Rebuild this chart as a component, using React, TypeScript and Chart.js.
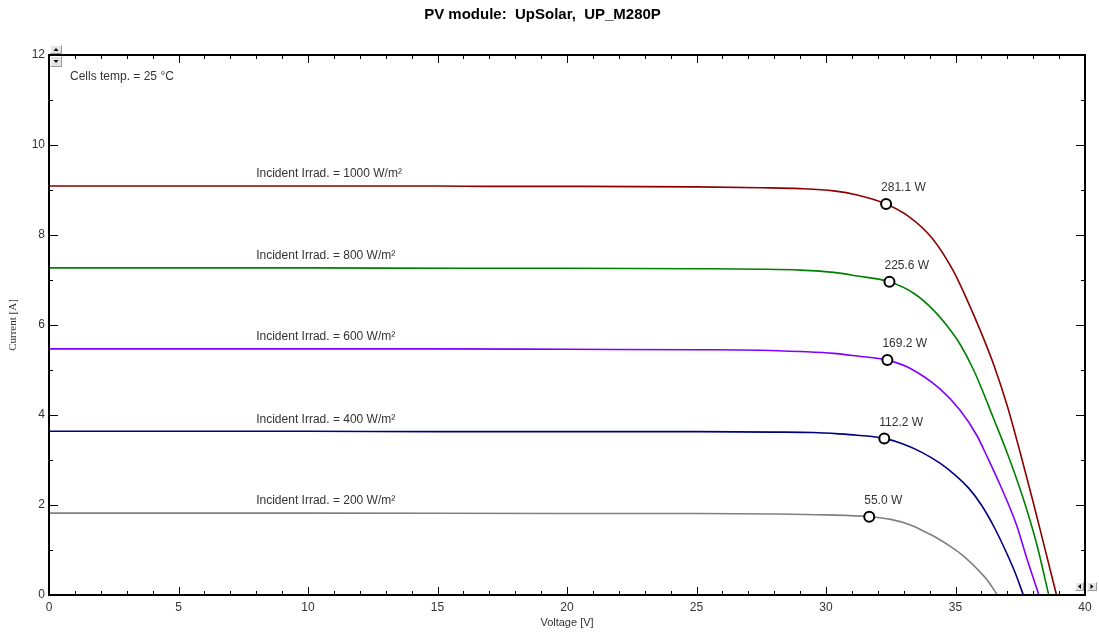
import { useEffect, useRef } from 'react';
import { Chart, registerables } from 'chart.js';

Chart.register(...registerables);

const FONT = "'Liberation Sans', Arial, sans-serif";
const TEXT = '#333333';

// I-V curves, voltage [V] and current [A]
const v1000 = [0, 5, 10, 15, 17, 20, 25, 27.5, 29, 30.3, 31.2, 32.32, 33.2, 34.1, 34.9, 35.4, 36.0, 36.5, 37.0, 37.5, 38.0, 38.5, 38.9];
const i1000 = [9.09, 9.09, 9.09, 9.09, 9.08, 9.08, 9.07, 9.05, 9.03, 8.98, 8.89, 8.69, 8.41, 7.93, 7.22, 6.62, 5.82, 5.08, 4.2, 3.16, 2.06, 0.92, 0];

const v800 = [0, 10, 16, 20, 25, 27.5, 29, 30.3, 31.2, 32.45, 33.4, 34.15, 34.85, 35.2, 35.7, 36.0, 36.45, 36.9, 37.36, 37.75, 38.15, 38.6];
const i800 = [7.27, 7.27, 7.26, 7.26, 7.25, 7.24, 7.22, 7.17, 7.09, 6.96, 6.7, 6.33, 5.85, 5.55, 5.0, 4.6, 3.95, 3.3, 2.58, 1.9, 1.1, 0];

const v600 = [0, 10, 15, 20, 25, 27.5, 29, 30.3, 31.2, 32.37, 33.24, 34.4, 35.17, 35.82, 36.2, 36.72, 37.36, 37.75, 38.22];
const i600 = [5.47, 5.47, 5.47, 5.46, 5.45, 5.44, 5.41, 5.37, 5.31, 5.22, 5.04, 4.58, 4.11, 3.55, 3.1, 2.45, 1.55, 0.82, 0];

const v400 = [0, 10, 15, 20, 25, 28, 29.5, 30.5, 31.2, 32.25, 33.0, 33.7, 34.4, 35.0, 35.5, 36.0, 36.5, 37.0, 37.3, 37.62];
const i400 = [3.64, 3.64, 3.63, 3.63, 3.63, 3.62, 3.61, 3.58, 3.55, 3.48, 3.35, 3.17, 2.93, 2.66, 2.38, 2.0, 1.5, 0.9, 0.5, 0];

const v200 = [0, 10, 20, 25, 28, 30, 31.67, 32.5, 33.24, 33.8, 34.3, 34.8, 35.3, 35.8, 36.2, 36.62];
const i200 = [1.82, 1.82, 1.81, 1.81, 1.8, 1.78, 1.74, 1.68, 1.56, 1.41, 1.26, 1.08, 0.87, 0.6, 0.35, 0];

const curveColors = ['#8b0000', '#008000', '#8000ff', '#000080', '#808080'];
const irradLabels = [
  'Incident Irrad. = 1000 W/m²',
  'Incident Irrad. = 800 W/m²',
  'Incident Irrad. = 600 W/m²',
  'Incident Irrad. = 400 W/m²',
  'Incident Irrad. = 200 W/m²',
];

// Maximum power points
const mppV = [32.32, 32.45, 32.37, 32.25, 31.67];
const mppI = [8.69, 6.96, 5.22, 3.48, 1.74];
const mppLabels = ['281.1 W', '225.6 W', '169.2 W', '112.2 W', '55.0 W'];

const titleText = 'PV module:  UpSolar,  UP_M280P';
const tempText = 'Cells temp. = 25 °C';
const xTitle = 'Voltage [V]';
const yTitle = 'Current [A]';
const xMin = 0, xMax = 40, xStep = 5;
const yMin = 0, yMax = 12, yStep = 2;
const irradLabelV = 8.0;

const curvesV = [v1000, v800, v600, v400, v200];
const curvesI = [i1000, i800, i600, i400, i200];

function drawButton(ctx: CanvasRenderingContext2D, x: number, y: number, w: number, h: number, dir: string) {
  ctx.fillStyle = '#e4e4e4';
  ctx.fillRect(x, y, w, h);
  ctx.strokeStyle = '#ffffff';
  ctx.lineWidth = 1;
  ctx.beginPath();
  ctx.moveTo(x + 0.5, y + h - 0.5);
  ctx.lineTo(x + 0.5, y + 0.5);
  ctx.lineTo(x + w - 0.5, y + 0.5);
  ctx.stroke();
  ctx.strokeStyle = '#9a9a9a';
  ctx.beginPath();
  ctx.moveTo(x + w - 0.5, y + 0.5);
  ctx.lineTo(x + w - 0.5, y + h - 0.5);
  ctx.lineTo(x + 0.5, y + h - 0.5);
  ctx.stroke();
  const cx = x + w / 2, cy = y + h / 2;
  ctx.fillStyle = '#000';
  ctx.beginPath();
  if (dir === 'up') { ctx.moveTo(cx - 2.5, cy + 1.5); ctx.lineTo(cx + 2.5, cy + 1.5); ctx.lineTo(cx, cy - 1.5); }
  if (dir === 'down') { ctx.moveTo(cx - 2.5, cy - 1.5); ctx.lineTo(cx + 2.5, cy - 1.5); ctx.lineTo(cx, cy + 1.5); }
  if (dir === 'left') { ctx.moveTo(cx + 1.5, cy - 2.5); ctx.lineTo(cx + 1.5, cy + 2.5); ctx.lineTo(cx - 1.5, cy); }
  if (dir === 'right') { ctx.moveTo(cx - 1.5, cy - 2.5); ctx.lineTo(cx - 1.5, cy + 2.5); ctx.lineTo(cx + 1.5, cy); }
  ctx.closePath();
  ctx.fill();
}

const pvPlugin = {
  id: 'pvDecor',
  afterDatasetsDraw(chart: any) {
    const { ctx, chartArea: ca, scales } = chart;
    const sx = scales.x, sy = scales.y;
    ctx.save();
    // inward ticks on all four sides
    ctx.strokeStyle = '#000';
    ctx.lineWidth = 1;
    ctx.beginPath();
    for (let v = xMin; v <= xMax; v += 1) {
      const px = Math.round(sx.getPixelForValue(v)) + 0.5;
      const len = v % xStep === 0 ? 8 : 4;
      ctx.moveTo(px, ca.bottom); ctx.lineTo(px, ca.bottom - len);
      ctx.moveTo(px, ca.top); ctx.lineTo(px, ca.top + len);
    }
    for (let v = yMin; v <= yMax; v += 1) {
      const py = Math.round(sy.getPixelForValue(v)) + 0.5;
      const len = v % yStep === 0 ? 9 : 4;
      ctx.moveTo(ca.left, py); ctx.lineTo(ca.left + len, py);
      ctx.moveTo(ca.right, py); ctx.lineTo(ca.right - len, py);
    }
    ctx.stroke();
    ctx.lineWidth = 2;
    ctx.strokeRect(ca.left, ca.top, ca.right - ca.left, ca.bottom - ca.top);

    // text annotations
    ctx.fillStyle = TEXT;
    ctx.font = `12px ${FONT}`;
    ctx.textBaseline = 'middle';
    ctx.textAlign = 'left';
    ctx.fillText(tempText, ca.left + 21, ca.top + 22);
    for (let k = 0; k < irradLabels.length; k++) {
      const px = sx.getPixelForValue(irradLabelV);
      const py = sy.getPixelForValue(curvesI[k][0]);
      ctx.fillText(irradLabels[k], px, py - 12);
      const mx = sx.getPixelForValue(mppV[k]);
      const my = sy.getPixelForValue(mppI[k]);
      ctx.fillText(mppLabels[k], mx - 5, my - 16);
    }

    // scroll buttons
    drawButton(ctx, ca.left + 1, ca.top - 10, 12, 9, 'up');
    drawButton(ctx, ca.left + 1, ca.top + 1, 12, 11, 'down');
    drawButton(ctx, ca.right - 10, ca.bottom - 13, 9, 9, 'left');
    drawButton(ctx, ca.right + 2, ca.bottom - 13, 10, 9, 'right');
    ctx.restore();
  },
};

export default function App() {
  const ref = useRef<HTMLCanvasElement | null>(null);
  useEffect(() => {
    if (!ref.current) return;
    const lineSets = curvesV.map((vs, k) => ({
      label: irradLabels[k],
      data: vs.map((v, j) => ({ x: v, y: curvesI[k][j] })),
      showLine: true,
      borderColor: curveColors[k],
      backgroundColor: curveColors[k],
      borderWidth: 1.6,
      pointRadius: 0,
      cubicInterpolationMode: 'monotone' as const,
      order: 2,
    }));
    const mppSet = {
      label: 'MPP',
      data: mppV.map((v, j) => ({ x: v, y: mppI[j] })),
      showLine: false,
      pointRadius: 5,
      pointBorderWidth: 2,
      pointBackgroundColor: '#ffffff',
      pointBorderColor: '#000000',
      order: 1,
    };
    const chart = new Chart(ref.current, {
      type: 'scatter',
      data: { datasets: [mppSet as any, ...lineSets] },
      plugins: [pvPlugin],
      options: {
        animation: false,
        responsive: false,
        devicePixelRatio: 1,
        layout: { padding: { left: 0, right: 14, top: 0, bottom: 0 } },
        plugins: {
          legend: { display: false },
          tooltip: { enabled: false },
          title: {
            display: true,
            text: titleText,
            color: '#000',
            font: { family: FONT, size: 15, weight: 'bold' },
            padding: { top: 6, bottom: 31 },
          },
        },
        scales: {
          x: {
            type: 'linear',
            min: xMin,
            max: xMax,
            grid: { display: false, drawTicks: false },
            border: { display: false },
            ticks: { stepSize: xStep, color: TEXT, font: { family: FONT, size: 12 }, padding: 5, maxRotation: 0 },
            title: { display: true, text: xTitle, color: TEXT, font: { family: FONT, size: 11 }, padding: { top: 0, bottom: 6 } },
            afterFit: (s: any) => { s.height = 41; },
          },
          y: {
            type: 'linear',
            min: yMin,
            max: yMax,
            grid: { display: false, drawTicks: false },
            border: { display: false },
            ticks: { stepSize: yStep, color: TEXT, font: { family: FONT, size: 12 }, padding: 4 },
            title: { display: true, text: yTitle, color: TEXT, font: { family: "'Liberation Serif', 'Times New Roman', serif", size: 11 }, padding: { top: 7, bottom: 0 } },
            afterFit: (s: any) => { s.width = 49; },
          },
        },
      } as any,
    });
    return () => chart.destroy();
  }, []);
  return (
    <div style={{ position: 'fixed', left: 0, top: 0, width: 1099, height: 636, background: '#fff' }}>
      <canvas ref={ref} width={1099} height={636} style={{ width: 1099, height: 636, display: 'block' }} />
    </div>
  );
}
